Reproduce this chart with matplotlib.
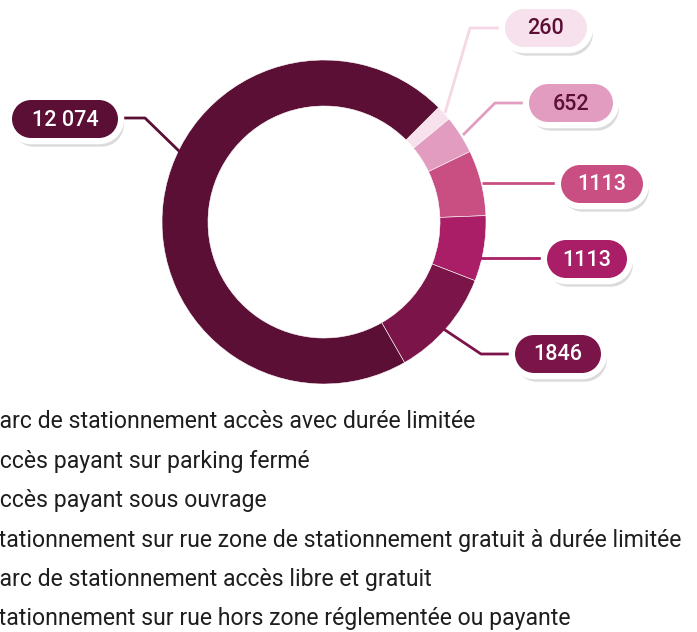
import numpy as np
import matplotlib.pyplot as plt
import matplotlib.patheffects as pe
from matplotlib.path import Path
from matplotlib.patches import PathPatch

# Data (slice order = clockwise from the top right)
categories = [
    "Parc de stationnement accès avec durée limitée",
    "Accès payant sur parking fermé",
    "Accès payant sous ouvrage",
    "Stationnement sur rue zone de stationnement gratuit à durée limitée",
    "Parc de stationnement accès libre et gratuit",
    "Stationnement sur rue hors zone réglementée ou payante",
]
values = [260, 652, 1113, 1113, 1846, 12074]
value_labels = ["260", "652", "1113", "1113", "1846", "12 074"]
colors = ["#f7e1ec", "#e29cc0", "#c94f83", "#a91e66", "#7b1549", "#5c0f35"]
text_colors = ["#5c0f35", "#5c0f35", "white", "white", "white", "white"]
line_colors = ["#f5d7e6", "#e29cc0", "#c94f83", "#a91e66", "#7b1549", "#5c0f35"]

# Layout (pixels, y downwards)
W, H = 697, 632
center = (324, 222)
r_out, ring = 162, 46
box_centers = [(546, 28), (571, 103), (602, 184), (587, 259), (558, 354), (65, 119)]
box_widths = [82, 84, 82, 80, 86, 106]
box_h = 38
border = 4.5  # points, half of it covers the fill
leaders = [
    [(445, 113), (470, 28), (506, 28)],
    [(463, 135), (495, 103), (530, 103)],
    [(482, 183), (562, 183)],
    [(467, 258), (548, 258)],
    [(433, 322), (481, 354), (516, 354)],
    [(180, 152), (145, 118), (116, 118)],
]
font = ["Roboto", "DejaVu Sans"]


def pill(cx, cy, w, h):
    r = h / 2
    left = Path.arc(90, 270)
    right = Path.arc(-90, 90)
    lv = left.vertices * r + [cx - w / 2 + r, cy]
    rv = right.vertices * r + [cx + w / 2 - r, cy]
    verts = np.vstack([lv, rv, lv[:1]])
    codes = np.concatenate([left.codes, [Path.LINETO], right.codes[1:], [Path.CLOSEPOLY]])
    return Path(verts, codes)


fig = plt.figure(figsize=(W / 100, H / 100), dpi=100)
ax = fig.add_axes([0, 0, 1, 1])

# y axis is inverted, so counterclockwise in data = clockwise on screen
ax.pie(values, colors=colors, center=center, radius=r_out, startangle=-45,
       counterclock=True,
       wedgeprops=dict(width=ring, edgecolor="#ffffff", linewidth=0.4))

for pts, c in zip(leaders, line_colors):
    xs, ys = zip(*pts)
    ax.plot(xs, ys, color=c, lw=2, solid_capstyle="butt", zorder=3)

shadow = [pe.SimplePatchShadow(offset=(2, -4), shadow_rgbFace="#000000", alpha=0.14),
          pe.Normal()]
pad = border * 100 / 72
for (cx, cy), w, lab, fc, tc in zip(box_centers, box_widths, value_labels, colors, text_colors):
    box = PathPatch(pill(cx, cy, w + pad, box_h + pad), facecolor=fc, edgecolor="white",
                    linewidth=border, zorder=4, path_effects=shadow)
    ax.add_patch(box)
    ax.text(cx, cy + 1, lab, ha="center", va="center", color=tc, fontsize=15.5,
            fontweight="medium", family=font, zorder=5)

# Legend (cut off at the left edge as in the source)
for i, cat in enumerate(categories):
    ax.text(-15, 422 + i * 39.4, cat, ha="left", va="center", color="#1e1e1e",
            fontsize=16.6, family=font)

ax.set_xlim(0, W)
ax.set_ylim(H, 0)
ax.axis("off")

fig.savefig("out.png", dpi=100)
